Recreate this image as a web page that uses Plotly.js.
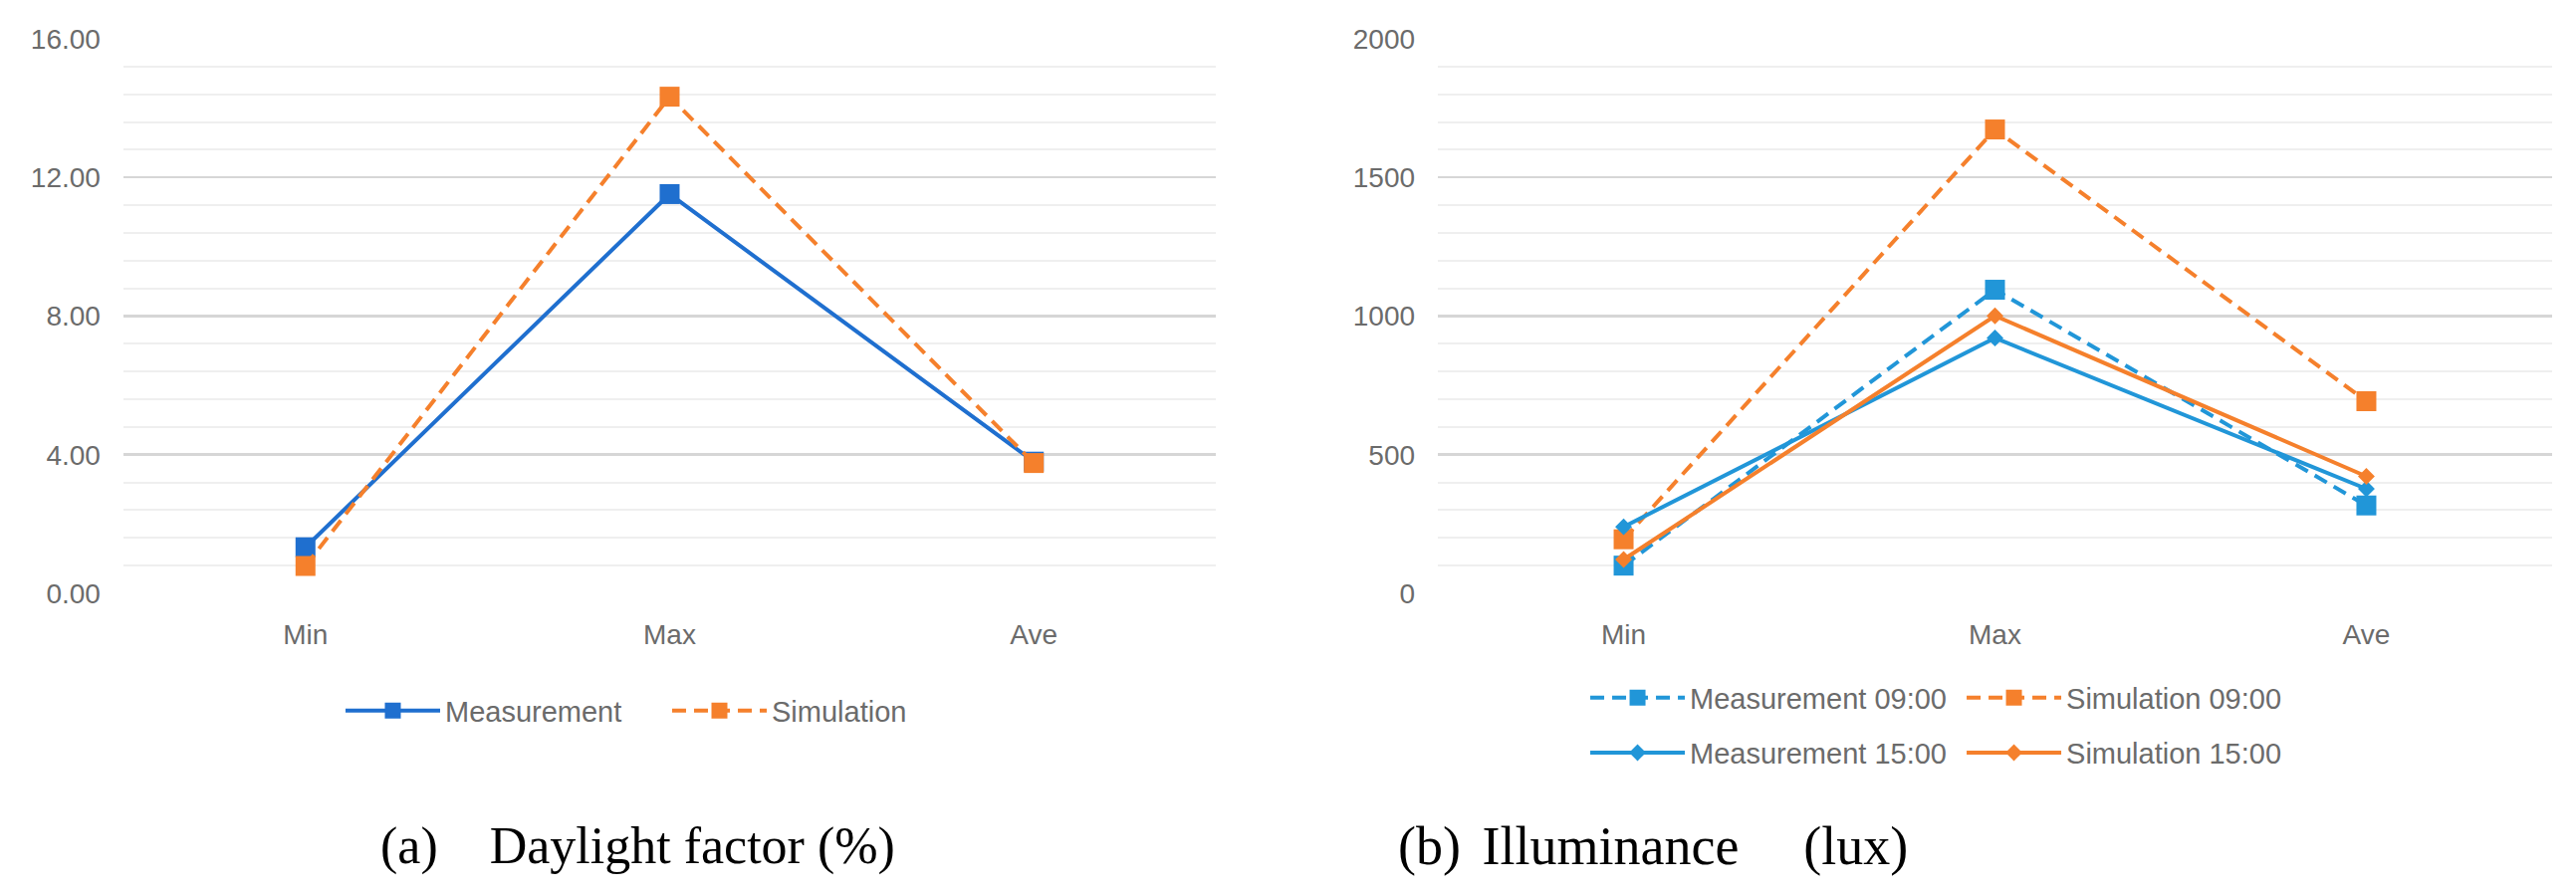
<!DOCTYPE html>
<html>
<head>
<meta charset="utf-8">
<script src="https://cdn.plot.ly/plotly-3.0.1.min.js"></script>
<style>html,body{margin:0;padding:0;background:#fff;}#chart{width:2587px;height:898px;}</style>
</head>
<body>
<div id="chart"></div>
<script>
// ---- data ----
var categories = ["Min", "Max", "Ave"];
// (a) Daylight factor (%)
var dfMeasurement = [1.33, 11.52, 3.80];
var dfSimulation = [0.79, 14.33, 3.76];
// (b) Illuminance (lux)
var luxMeasurement0900 = [100, 1095, 317];
var luxSimulation0900 = [195, 1673, 693];
var luxMeasurement1500 = [240, 921, 377];
var luxSimulation1500 = [122, 1001, 422];
// tick labels
var dfTickVals = [0, 4, 8, 12, 16];
var dfTickText = ["0.00", "4.00", "8.00", "12.00", "16.00"];
var luxTickVals = [0, 500, 1000, 1500, 2000];
var luxTickText = ["0", "500", "1000", "1500", "2000"];
var captionA = "(a)\u2003Daylight factor (%)";
var captionB = "(b)\u2009\u2009Illuminance\u2003\u2009(lux)";

var blueA = "#1f6fcf";
var orange = "#f5802c";
var blueB = "#2196d8";
var tickFont = {family: "Liberation Sans, Arial, sans-serif", size: 28, color: "#6b6b6b"};
var legFont = {family: "Liberation Sans, Arial, sans-serif", size: 29, color: "#6b6b6b"};

var traces = [
  {x: categories, y: dfMeasurement, name: "Measurement", type: "scatter", mode: "lines+markers",
   xaxis: "x", yaxis: "y", legend: "legend",
   line: {color: blueA, width: 4}, marker: {symbol: "square", size: 20, color: blueA}},
  {x: categories, y: dfSimulation, name: "Simulation", type: "scatter", mode: "lines+markers",
   xaxis: "x", yaxis: "y", legend: "legend",
   line: {color: orange, width: 4, dash: "14px,8px"}, marker: {symbol: "square", size: 20, color: orange}},
  {x: categories, y: luxMeasurement0900, name: "Measurement 09:00", type: "scatter", mode: "lines+markers",
   xaxis: "x2", yaxis: "y2", legend: "legend2",
   line: {color: blueB, width: 4, dash: "14px,8px"}, marker: {symbol: "square", size: 20, color: blueB}},
  {x: categories, y: luxSimulation0900, name: "Simulation 09:00", type: "scatter", mode: "lines+markers",
   xaxis: "x2", yaxis: "y2", legend: "legend2",
   line: {color: orange, width: 4, dash: "14px,8px"}, marker: {symbol: "square", size: 20, color: orange}},
  {x: categories, y: luxMeasurement1500, name: "Measurement 15:00", type: "scatter", mode: "lines+markers",
   xaxis: "x2", yaxis: "y2", legend: "legend3",
   line: {color: blueB, width: 4}, marker: {symbol: "diamond", size: 13, color: blueB}},
  {x: categories, y: luxSimulation1500, name: "Simulation 15:00", type: "scatter", mode: "lines+markers",
   xaxis: "x2", yaxis: "y2", legend: "legend3",
   line: {color: orange, width: 4}, marker: {symbol: "diamond", size: 13, color: orange}}
];

function yAxis(range, minor, vals, text, anchor) {
  return {
    anchor: anchor, domain: [0.3363, 0.9566], range: range, fixedrange: true,
    tickmode: "array", tickvals: vals, ticktext: text, tickfont: tickFont,
    showgrid: true, gridcolor: "#d6d6d6", gridwidth: 2.5, zeroline: false, showline: false,
    ticks: "", ticklabelstandoff: 22,
    minor: {dtick: minor, tick0: 0, showgrid: true, gridcolor: "#efefef", gridwidth: 2, ticks: ""}
  };
}
function xAxis(domain, anchor) {
  return {
    anchor: anchor, domain: domain, type: "category", categoryorder: "array", categoryarray: categories,
    range: [-0.5, 2.5], showgrid: false, zeroline: false, showline: false, ticks: "",
    tickfont: tickFont, ticklabelstandoff: 22, fixedrange: true
  };
}

var layout = {
  width: 2587, height: 898, margin: {l: 0, r: 0, t: 0, b: 0},
  paper_bgcolor: "#ffffff", plot_bgcolor: "#ffffff",
  xaxis: xAxis([0.0479, 0.472], "y"),
  yaxis: yAxis([0, 16], 0.8, dfTickVals, dfTickText, "x"),
  xaxis2: xAxis([0.5582, 0.9907], "y2"),
  yaxis2: yAxis([0, 2000], 100, luxTickVals, luxTickText, "x2"),
  legend: {orientation: "h", x: 0.1322, xanchor: "left", y: 0.205, yanchor: "middle",
           font: legFont, itemwidth: 95, entrywidth: 218, bgcolor: "rgba(0,0,0,0)"},
  legend2: {orientation: "h", x: 0.6154, xanchor: "left", y: 0.2194, yanchor: "middle",
           font: legFont, itemwidth: 95, entrywidth: 268, bgcolor: "rgba(0,0,0,0)"},
  legend3: {orientation: "h", x: 0.6154, xanchor: "left", y: 0.158, yanchor: "middle",
           font: legFont, itemwidth: 95, entrywidth: 268, bgcolor: "rgba(0,0,0,0)"},
  showlegend: true,
  annotations: [
    {text: captionA, xref: "paper", yref: "paper", x: 0.2474, y: 0.0535, xanchor: "center", yanchor: "middle",
     showarrow: false, font: {family: "Liberation Serif, Times New Roman, serif", size: 52, color: "#000"}},
    {text: captionB, xref: "paper", yref: "paper", x: 0.6417, y: 0.0535, xanchor: "center", yanchor: "middle",
     showarrow: false, font: {family: "Liberation Serif, Times New Roman, serif", size: 54, color: "#000"}}
  ]
};

Plotly.newPlot("chart", traces, layout, {displayModeBar: false, staticPlot: true});
</script>
</body>
</html>
